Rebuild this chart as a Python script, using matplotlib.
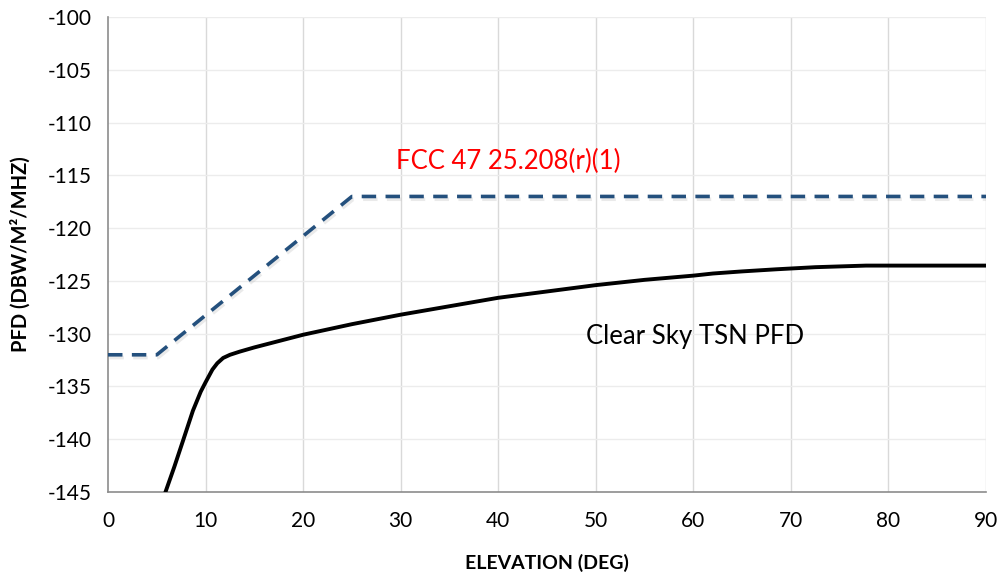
import numpy as np
import matplotlib
matplotlib.use('Agg')
import matplotlib.pyplot as plt
import matplotlib.patheffects as pe

plt.rcParams['font.family'] = ['Lato', 'DejaVu Sans']
plt.rcParams['axes.unicode_minus'] = False

# FCC 47 25.208(r)(1) mask breakpoints
fcc_elev = [0, 5, 25, 90]
fcc_pfd = [-132, -132, -117, -117]

# clear sky TSN PFD
tsn_elev = [5.85, 6.8, 7.7, 8.7, 9.5, 10.0, 10.7, 11.2, 11.8, 12.5, 13.5, 15, 17.5,
            20, 25, 30, 35, 40, 45, 50, 55, 60, 62, 65, 68.5, 72.5, 77.7, 80, 85, 90]
tsn_pfd = [-145.1, -142.6, -140.1, -137.3, -135.5, -134.6, -133.4, -132.8, -132.3,
           -132.0, -131.7, -131.3, -130.7, -130.1, -129.1, -128.2, -127.4, -126.6,
           -126.0, -125.4, -124.9, -124.5, -124.3, -124.1, -123.9, -123.7, -123.55,
           -123.55, -123.55, -123.55]

xticks = np.arange(0, 91, 10)
yticks = np.arange(-145, -99, 5)

fig = plt.figure(figsize=(10.04, 5.77), dpi=100)
ax = fig.add_axes([0.1076, 0.1473, 0.8745, 0.8232])

ax.plot(fcc_elev, fcc_pfd, color='#24507d', lw=2.6, dashes=(4, 2.6),
        solid_capstyle='butt', dash_capstyle='butt',
        path_effects=[pe.SimpleLineShadow(offset=(1, -2), shadow_color='#999999', alpha=0.2),
                      pe.Normal()], zorder=3)
ax.plot(tsn_elev, tsn_pfd, color='black', lw=2.8, solid_capstyle='butt', zorder=4)

ax.text(29.5, -113.7, 'FCC 47 25.208(r)(1)', color='red', fontsize=18.5, va='center', ha='left')
ax.text(49.0, -130.3, 'Clear Sky TSN PFD', color='black', fontsize=18.5, va='center', ha='left')

ax.set_xlim(0, 90)
ax.set_ylim(-145, -100)
ax.set_xticks(xticks)
ax.set_yticks(yticks)
ax.tick_params(length=0, labelsize=15)
ax.tick_params(axis='x', pad=14)
ax.tick_params(axis='y', pad=12)

for x in xticks[1:]:
    ax.axvline(x, color='#d9d9d9', lw=1, zorder=1)
for y in yticks[1:]:
    ax.axhline(y, color='#ececec', lw=1, zorder=1)

for s in ['top', 'right']:
    ax.spines[s].set_visible(False)
for s in ['left', 'bottom']:
    ax.spines[s].set_color('#8c8c8c')
    ax.spines[s].set_linewidth(1.2)

ax.set_xlabel('ELEVATION (DEG)', fontsize=14, fontweight='bold', labelpad=16)
ax.set_ylabel('PFD (DBW/M²/MHZ)', fontsize=14.5, fontweight='bold', labelpad=12)

fig.savefig('out.png', dpi=100)
